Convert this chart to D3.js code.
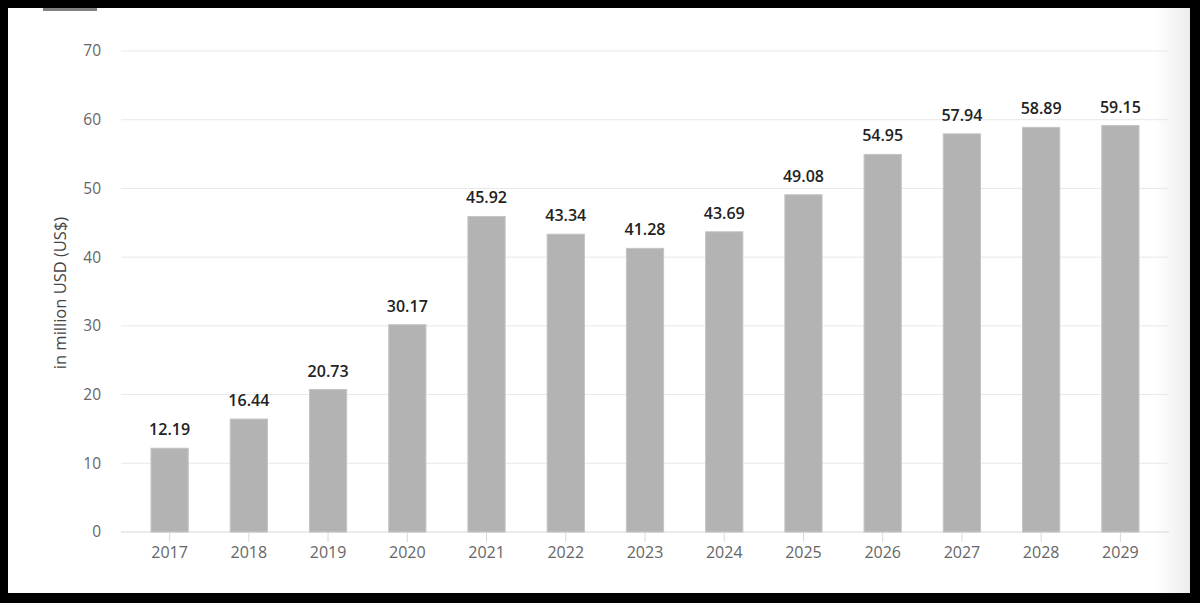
<!DOCTYPE html>
<html>
<head>
<meta charset="utf-8">
<script src="https://cdn.jsdelivr.net/npm/d3@7"></script>
<style>
  html, body { margin: 0; padding: 0; background: #000; }
  svg { display: block; }
</style>
</head>
<body>
<svg width="1200" height="603"></svg>
<script>
// chart data
var years = ["2017", "2018", "2019", "2020", "2021", "2022", "2023", "2024", "2025", "2026", "2027", "2028", "2029"];
var revenue = [12.19, 16.44, 20.73, 30.17, 45.92, 43.34, 41.28, 43.69, 49.08, 54.95, 57.94, 58.89, 59.15];
var yTicks = [0, 10, 20, 30, 40, 50, 60, 70];

var svg = d3.select("svg");

// white card with black frame
var defs = svg.append("defs");
var grad = defs.append("linearGradient").attr("id", "edge").attr("x1", 0).attr("x2", 1);
grad.append("stop").attr("offset", 0).attr("stop-color", "#fff");
grad.append("stop").attr("offset", 0.97).attr("stop-color", "#fff");
grad.append("stop").attr("offset", 1).attr("stop-color", "#ececec");

svg.append("rect")
  .attr("x", 8).attr("y", 8)
  .attr("width", 1182).attr("height", 585)
  .attr("fill", "url(#edge)");

// little gray tab at top
svg.append("rect")
  .attr("x", 43).attr("y", 8)
  .attr("width", 54).attr("height", 3)
  .attr("fill", "#808080");

var xScale = d3.scaleBand().domain(years).range([130, 1160]).paddingInner(0.53).paddingOuter(0.265);
var yScale = d3.scaleLinear().domain([0, 70]).range([532, 51]);

// gridlines
svg.append("g")
  .selectAll("line")
  .data(yTicks)
  .enter()
  .append("line")
  .attr("x1", 121)
  .attr("x2", 1169)
  .attr("y1", function(d) { return yScale(d); })
  .attr("y2", function(d) { return yScale(d); })
  .attr("stroke", function(d) { return d === 0 ? "#d8d8d8" : "#e8e8e8"; })
  .attr("stroke-width", 1);

// y axis labels
var yAxis = d3.axisLeft(yScale).tickValues(yTicks).tickSize(0).tickPadding(0);
var yG = svg.append("g")
  .attr("transform", "translate(101,0)")
  .call(yAxis);
yG.select(".domain").remove();
yG.selectAll("text")
  .attr("fill", "#666")
  .style("font-family", "'Open Sans', sans-serif")
  .style("font-size", "15.5px");

// x axis
var xAxis = d3.axisBottom(xScale).tickSize(10).tickPadding(5);
var xG = svg.append("g")
  .attr("transform", "translate(0,532)")
  .call(xAxis);
xG.select(".domain").remove();
xG.selectAll(".tick line").attr("stroke", "#d8d8d8");
xG.selectAll("text")
  .attr("fill", "#666")
  .style("font-family", "'Open Sans', sans-serif")
  .style("font-size", "16px");

// bars
svg.append("g")
  .selectAll("rect")
  .data(revenue)
  .enter()
  .append("rect")
  .attr("x", function(d, i) { return xScale(years[i]); })
  .attr("y", function(d) { return yScale(d); })
  .attr("width", xScale.bandwidth())
  .attr("height", function(d) { return yScale(0) - yScale(d); })
  .attr("fill", "#b3b3b3")
  .attr("stroke", "#c4c4c4")
  .attr("stroke-width", 1);

// value labels
svg.append("g")
  .selectAll("text")
  .data(revenue)
  .enter()
  .append("text")
  .attr("x", function(d, i) { return xScale(years[i]) + xScale.bandwidth() / 2; })
  .attr("y", function(d) { return yScale(d) - 13; })
  .attr("text-anchor", "middle")
  .attr("fill", "#222")
  .style("font-family", "'Open Sans', sans-serif")
  .style("font-size", "16px")
  .style("font-weight", "600")
  .text(function(d) { return d.toFixed(2); });

// y axis title
svg.append("text")
  .attr("transform", "translate(66,293) rotate(-90)")
  .attr("text-anchor", "middle")
  .attr("fill", "#444")
  .style("font-family", "'Open Sans', sans-serif")
  .style("font-size", "16.5px")
  .text("in million USD (US$)");
</script>
</body>
</html>
